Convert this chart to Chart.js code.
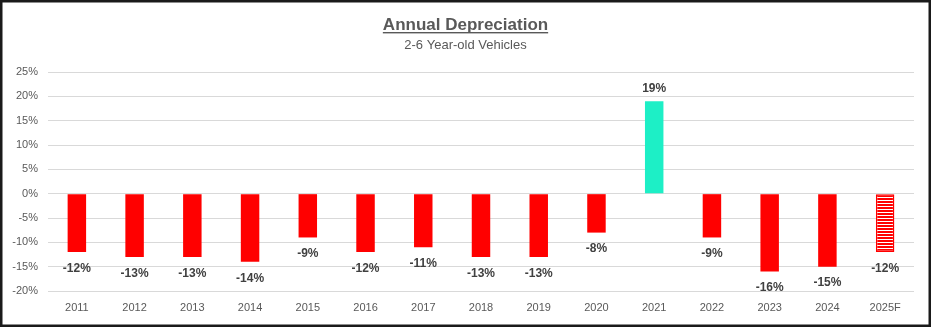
<!DOCTYPE html>
<html>
<head>
<meta charset="utf-8">
<script src="https://cdn.jsdelivr.net/npm/chart.js@4"></script>
<style>
html,body{margin:0;padding:0;background:#fff;}
#wrap{width:931px;height:327px;position:relative;}
</style>
</head>
<body>
<div id="wrap"><canvas id="c" width="931" height="327"></canvas></div>
<script>
const categories = ['2011','2012','2013','2014','2015','2016','2017','2018','2019','2020','2021','2022','2023','2024','2025F'];
const depreciation = [-12,-13,-13,-14,-9,-12,-11,-13,-13,-8,19,-9,-16,-15,-12];
const forecastFlags = [false,false,false,false,false,false,false,false,false,false,false,false,false,false,true];
const titleText = 'Annual Depreciation';
const subtitleText = '2-6 Year-old Vehicles';

function stripePattern(){
  const p = document.createElement('canvas');
  p.width = 4; p.height = 3;
  const g = p.getContext('2d');
  g.fillStyle = '#ffffff'; g.fillRect(0,0,4,3);
  g.fillStyle = '#ff0000'; g.fillRect(0,0,4,2);
  return g.createPattern(p,'repeat');
}
const pattern = stripePattern();

const bg = depreciation.map((v,i)=> forecastFlags[i] ? pattern : (v>=0 ? '#1defc6' : '#ff0000'));
const bc = depreciation.map((v,i)=> forecastFlags[i] ? '#ff0000' : 'rgba(0,0,0,0)');
const bw = depreciation.map((v,i)=> forecastFlags[i] ? 1.5 : 0);

const decor = {
  id:'decor',
  afterDraw(chart){
    const ctx = chart.ctx;
    ctx.save();
    // title
    ctx.fillStyle = '#595959';
    ctx.textAlign = 'center';
    ctx.textBaseline = 'middle';
    ctx.font = 'bold 17px "Liberation Sans", Arial, sans-serif';
    const cx = 465.5;
    ctx.fillText(titleText, cx, 25);
    const w = ctx.measureText(titleText).width;
    ctx.fillRect(cx - w/2, 32, w, 1.4);
    ctx.font = '13px "Liberation Sans", Arial, sans-serif';
    ctx.fillText(subtitleText, cx, 45.5);
    // data labels
    const meta = chart.getDatasetMeta(0);
    ctx.font = 'bold 12px "Liberation Sans", Arial, sans-serif';
    ctx.fillStyle = '#404040';
    meta.data.forEach((bar,i)=>{
      const v = depreciation[i];
      const y = v < 0 ? bar.y + 16.5 : bar.y - 13;
      ctx.fillText(v + '%', bar.x, y);
    });
    // frame
    ctx.strokeStyle = '#1a1a1a';
    ctx.lineWidth = 2.5;
    ctx.strokeRect(1.25,1.25,931-2.5,327-2.5);
    ctx.restore();
  }
};

new Chart(document.getElementById('c'), {
  type:'bar',
  data:{
    labels:categories,
    datasets:[{
      data:depreciation,
      backgroundColor:bg,
      borderColor:bc,
      borderWidth:bw,
      borderSkipped:false,
      categoryPercentage:1,
      barPercentage:0.32
    }]
  },
  options:{
    responsive:false,
    animation:false,
    devicePixelRatio:1,
    layout:{padding:{top:72,right:17,bottom:0,left:0}},
    plugins:{legend:{display:false},title:{display:false},tooltip:{enabled:false}},
    scales:{
      x:{
        grid:{display:false,drawTicks:false},
        border:{display:false},
        ticks:{color:'#595959',font:{family:'"Liberation Sans", Arial, sans-serif',size:11},padding:10,maxRotation:0},
        afterFit(s){s.height = 36;}
      },
      y:{
        min:-20,max:25,
        grid:{color:'#d9d9d9',lineWidth:1,drawTicks:false},
        border:{display:false},
        ticks:{stepSize:5,color:'#595959',font:{family:'"Liberation Sans", Arial, sans-serif',size:11},padding:10,callback:v=>v+'%'},
        afterFit(s){s.width = 48;}
      }
    }
  },
  plugins:[decor]
});
</script>
</body>
</html>
